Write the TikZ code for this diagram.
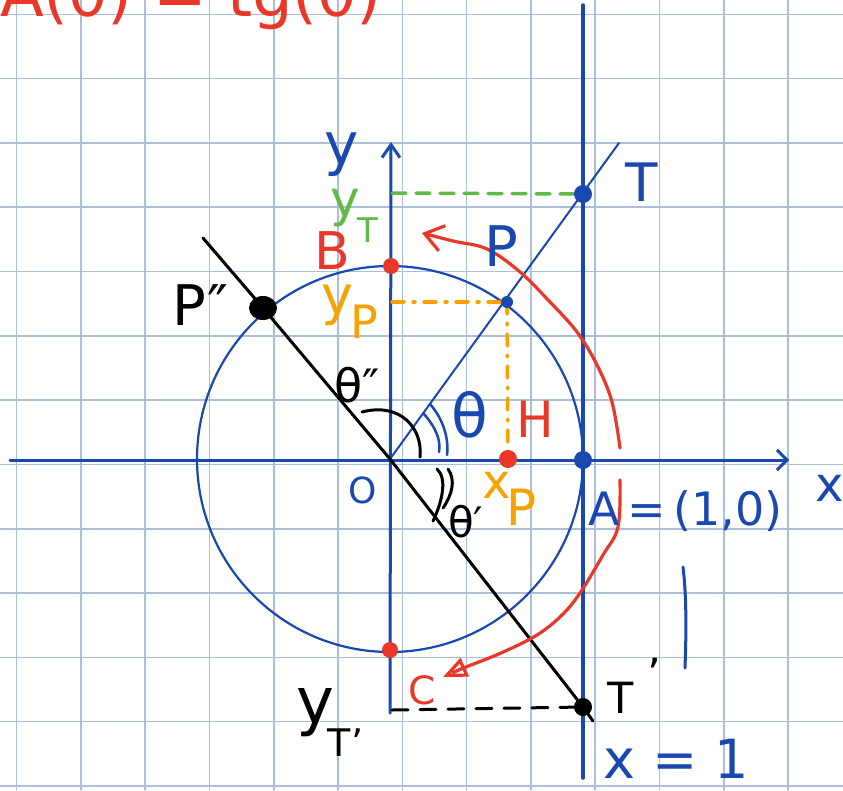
\documentclass[tikz,border=0pt]{standalone}
\usepackage{fontspec}
\setmainfont{DejaVu Sans}
\usetikzlibrary{arrows.meta}
\definecolor{gridc}{RGB}{172,190,216}
\definecolor{pblue}{RGB}{24,72,176}
\definecolor{pred}{RGB}{234,56,40}
\definecolor{pgreen}{RGB}{96,186,72}
\definecolor{porange}{RGB}{247,162,0}
\newcommand{\fs}[1]{\fontsize{#1}{#1}\selectfont}
\begin{document}
\begin{tikzpicture}[x=1pt,y=-1pt,line cap=round,line join=round,
  hw/.style={inner sep=0pt,outer sep=0pt},
  gridline/.style={gridc,line width=1.6pt},
  axis/.style={pblue,line width=3pt},
  dashgreen/.style={pgreen,line width=3.5pt,dash pattern=on 14pt off 10pt},
  dashorange/.style={porange,line width=3.5pt,dash pattern=on 12pt off 9pt on 2pt off 9pt},
  dashblack/.style={black,line width=3pt,dash pattern=on 16pt off 12pt},
  redarrow/.style={pred,line width=3.2pt}]
\useasboundingbox (0,0) rectangle (843,790);
\fill[white] (0,0) rectangle (843,790);
% grid
\foreach \i in {0,...,12}{
  \draw[gridline] (16.5+64.3*\i,0) -- (16.5+64.3*\i,790);
  \draw[gridline] (0,14.3+64.3*\i) -- (843,14.3+64.3*\i);
}
% points
\coordinate (O) at (390,459);
\coordinate (A) at (583,460);
\coordinate (B) at (391,266);
\coordinate (C) at (390,650);
\coordinate (P) at (507,302);
\coordinate (T) at (583,194);
\coordinate (Tend) at (619,143);
\coordinate (H) at (508,459);
\coordinate (Ppp) at (263,308);
\coordinate (Tp) at (583,707);
\coordinate (Ls) at (203,238);
\coordinate (Le) at (593,721);
\coordinate (yB) at (390,713);
\coordinate (yE) at (391,142);
\coordinate (xB) at (10,460);
\coordinate (xE) at (789,460);
\coordinate (vB) at (583,5);
\coordinate (vE) at (583,778);
\coordinate (yTc) at (392,193);
\coordinate (yPc) at (392,302);
\coordinate (yTpc) at (392,710);
% circle and lines
\draw[pblue,line width=2.2pt] (O) circle[radius=193pt];
\draw[axis,-{Straight Barb[length=10pt,width=20pt]}] (xB) -- (xE);
\draw[axis,-{Straight Barb[length=13pt,width=18pt]}] (yB) -- (yE);
\draw[pblue,line width=3.5pt] (vB) -- (vE);
\draw[pblue,line width=2pt] (O) -- (Tend);
\draw[black,line width=3pt] (Ls) -- (Ppp) -- (O) -- (Tp) -- (Le);
% dashed projections
\draw[dashgreen] (yTc) -- (T);
\draw[dashorange] (yPc) -- (P);
\draw[dashorange] (P) -- (H);
\draw[dashblack] (yTpc) -- (Tp);
% angle marks
\coordinate (a1) at (362,412);
\coordinate (a2) at (420,457);
\draw[black,line width=3pt] (a1) .. controls (400,402) and (423,428) .. (a2);
\coordinate (b1) at (424,414); \coordinate (b2) at (439,452);
\coordinate (b3) at (430,404); \coordinate (b4) at (447,455);
\draw[pblue,line width=2.5pt] (b1) .. controls (436,428) and (441,440) .. (b2);
\draw[pblue,line width=2.5pt] (b3) .. controls (444,420) and (449,440) .. (b4);
\coordinate (m1) at (437,469); \coordinate (m2) at (433,521);
\coordinate (m3) at (448,469); \coordinate (m4) at (443,508);
\draw[black,line width=3pt] (m1) .. controls (447,478) and (443,500) .. (m2);
\draw[black,line width=3pt] (m3) .. controls (456,480) and (452,495) .. (m4);
% red arrows
\coordinate (r1s) at (620,448); \coordinate (r1e) at (422,233);
\draw[redarrow,-{Straight Barb[length=18pt,width=26pt]}] plot[smooth,tension=0.6] coordinates
  {(r1s) (612,402) (597,365) (577,332) (550,302) (520,272) (487,249) (453,241) (r1e)};
\coordinate (r2s) at (620,480); \coordinate (r2e) at (443,677);
\draw[redarrow,-{Triangle[open,length=24pt,width=20pt]}] plot[smooth,tension=0.6] coordinates
  {(r2s) (618,527) (603,555) (580,593) (562,615) (537,635) (501,653) (466,667) (r2e)};
% stroke near A
\coordinate (s1) at (683,567); \coordinate (s2) at (685,668);
\draw[pblue,line width=3pt] (s1) .. controls (687,600) and (686,640) .. (s2);
% dots
\fill[pred] (B) circle[radius=8pt];
\fill[pred] (C) circle[radius=8pt];
\fill[pred] (H) circle[radius=9pt];
\fill[pblue] (P) circle[radius=6pt];
\fill[pblue] (T) circle[radius=9pt];
\fill[pblue] (A) circle[radius=9pt];
\fill[black] (Ppp) ellipse[x radius=14pt,y radius=12pt];
\fill[black] (Tp) circle[radius=9pt];
% labels
\node[hw,text=pred,anchor=base west,font=\fs{64}] (title) at (0,16) {A(θ) = tg(θ)};
\node[hw,text=pblue,font=\fs{58}] (ly) at (342,155) {y};
\node[hw,text=pgreen,anchor=base west,font=\fs{50}] (lyT) at (330,216) {y\kern-2pt\raisebox{-26pt}{\fs{34}T}};
\node[hw,text=pred,font=\fs{52}] (lB) at (332,251) {B};
\node[hw,text=pblue,font=\fs{56}] (lP) at (501,246) {P};
\node[hw,text=pblue,font=\fs{53}] (lT) at (642,182) {T};
\node[hw,text=black,anchor=base west,font=\fs{56}] (lPpp) at (172,325) {P\kern2pt″};
\node[hw,text=porange,anchor=base west,font=\fs{54}] (lyP) at (321,314) {y\kern-2pt\raisebox{-24pt}{\fs{46}P}};
\node[hw,text=black,anchor=base west,font=\fs{46}] (lthpp) at (334,402) {θ″};
\node[hw,text=pblue,font=\fs{60}] (lth) at (470,415) {θ};
\node[hw,text=pred,font=\fs{50}] (lH) at (535,419) {H};
\node[hw,text=pblue,font=\fs{36}] (lO) at (363,490) {O};
\node[hw,text=porange,anchor=base west,font=\fs{48}] (lxP) at (482,498) {x\kern-4pt\raisebox{-27pt}{\fs{50}P}};
\node[hw,text=black,anchor=base west,font=\fs{42}] (lthp) at (448,537) {θ′};
\node[hw,text=pblue,anchor=base west,font=\fs{46}] (lA) at (588,525) {A\,=\,(1,0)};
\node[hw,text=pblue,font=\fs{48}] (lx) at (830,488) {x};
\node[hw,text=black,anchor=base west,font=\fs{43}] (lTp) at (607,713) {T\kern14pt\raisebox{24pt}{’}};
\node[hw,text=black,anchor=base west,font=\fs{64}] (lyTp) at (296,723) {y\kern-6pt\raisebox{-33pt}{\fs{38}T’}};
\node[hw,text=pred,font=\fs{39}] (lC) at (422,690) {C};
\node[hw,text=pblue,anchor=base west,font=\fs{54}] (lx1) at (603,778) {x = 1};
\end{tikzpicture}
\end{document}
